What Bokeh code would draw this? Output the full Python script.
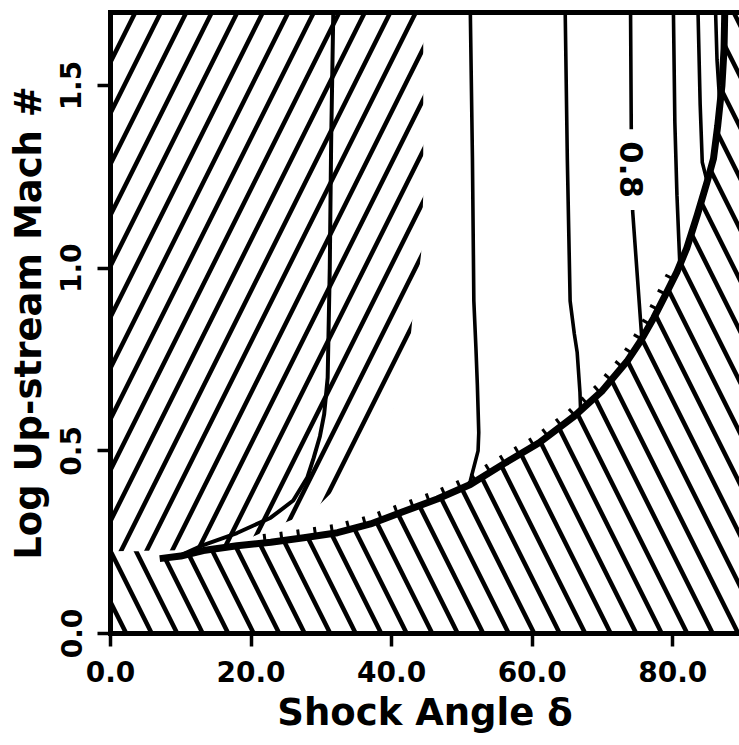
import numpy as np
from bokeh.plotting import figure
from bokeh.models import LinearAxis, FixedTicker, PrintfTickFormatter, Range1d
from bokeh.core.properties import value
from bokeh.embed import file_html
from bokeh.resources import INLINE

# ---- data: shock angle (deg) vs log10 of up-stream Mach number ----
# thick limiting curve (attached-shock limit)
boundary_delta = [7.0, 10.0, 13.2, 18.0, 22.8, 27.5, 32.3, 37.0, 41.7, 46.5, 51.2,
                  56.0, 61.0, 66.0, 70.0, 73.5, 75.4, 77.3, 79.2, 80.6, 82.0,
                  83.5, 84.9, 85.8, 86.4, 87.0, 87.3, 87.4]
boundary_logm = [0.205, 0.212, 0.227, 0.240, 0.250, 0.262, 0.276, 0.300, 0.334, 0.368, 0.408,
                 0.465, 0.522, 0.595, 0.665, 0.745, 0.800, 0.864, 0.936, 0.990, 1.055,
                 1.146, 1.237, 1.300, 1.390, 1.500, 1.600, 1.700]

# iso-lines
left_delta = [9.5, 12.8, 18.0, 22.8, 26.0, 28.0, 28.9, 29.8, 30.4, 30.9, 31.2, 31.4, 31.7]
left_logm = [0.210, 0.239, 0.275, 0.317, 0.364, 0.427, 0.480, 0.540, 0.600, 0.700, 1.000, 1.350, 1.700]

c1_delta = [51.2, 51.5, 51.7, 52.0, 52.2, 52.4, 52.3, 51.9, 51.2, 50.8]
c1_logm = [1.70, 1.30, 0.91, 0.78, 0.68, 0.55, 0.50, 0.47, 0.418, 0.405]

c2_delta = [64.7, 65.0, 65.4, 66.0, 66.4, 66.8, 66.9]
c2_logm = [1.70, 1.30, 0.91, 0.82, 0.77, 0.66, 0.605]

c3_delta = [74.0, 74.1, 74.3, 75.6]
c3_logm = [1.70, 1.38, 1.155, 0.808]

c4_delta = [80.1, 80.3, 80.6, 81.0]
c4_logm = [1.70, 1.40, 1.20, 1.015]

c5_delta = [83.6, 83.9, 84.2, 84.9]
c5_logm = [1.70, 1.45, 1.29, 1.237]

c6_delta = [86.1, 86.3, 86.7]
c6_logm = [1.70, 1.57, 1.45]

contour_label = "0.8"
contour_label_delta = 74.2
contour_label_logm = 1.27

# edge of the "/" hatched zone
hatch_up_delta = [0.0, 0.0, 44.5, 44.5, 44.2, 43.7, 43.1, 42.7, 41.7, 40.3, 36.7,
                  28.9, 22.5, 18.0, 13.2, 10.0, 0.0]
hatch_up_logm = [0.225, 1.70, 1.70, 1.20, 1.04, 0.96, 0.89, 0.81, 0.72, 0.62, 0.487,
                 0.336, 0.285, 0.245, 0.232, 0.228, 0.225]
hatch_split_logm = 0.225

x_ticks = [0, 20, 40, 60, 80]
y_ticks = [0.0, 0.5, 1.0, 1.5]

X0, X1 = 0.0, 89.5
Y0, Y1 = 0.0, 1.7

W, H = 739, 745
B_LEFT, B_RIGHT, B_TOP, B_BOTTOM = 110, 0, 12, 112
FW, FH = W - B_LEFT - B_RIGHT, H - B_TOP - B_BOTTOM

FONT = value("DejaVu Sans")

p = figure(width=W, height=H, x_range=Range1d(X0, X1), y_range=Range1d(Y0, Y1),
           output_backend="svg", toolbar_location=None,
           min_border_left=B_LEFT, min_border_right=B_RIGHT,
           min_border_top=B_TOP, min_border_bottom=B_BOTTOM,
           background_fill_color="white", border_fill_color="white")
p.grid.visible = False
p.outline_line_color = None

# hatched zones
p.patch(hatch_up_delta, hatch_up_logm, fill_color=None, line_color=None,
        hatch_pattern="/", hatch_scale=51, hatch_weight=4.5, hatch_color="black")

down_x = [X0, X0, boundary_delta[0] - 1.0] + boundary_delta + [X1, X1]
down_y = [Y0, hatch_split_logm, hatch_split_logm] + boundary_logm + [Y1, Y0]
p.patch(down_x, down_y, fill_color=None, line_color=None,
        hatch_pattern="\\", hatch_scale=51, hatch_weight=4.5, hatch_color="black")

# iso-lines
p.line(left_delta, left_logm, line_color="black", line_width=4)
for xs, ys in [(c1_delta, c1_logm), (c2_delta, c2_logm), (c3_delta, c3_logm),
               (c4_delta, c4_logm), (c5_delta, c5_logm), (c6_delta, c6_logm)]:
    p.line(xs, ys, line_color="black", line_width=3.6)

# limiting curve
p.line(boundary_delta, boundary_logm, line_color="black", line_width=7, line_join="round")

# short hachures on the upper side of the limiting curve
kx, ky = FW / (X1 - X0), FH / (Y1 - Y0)
bx = np.array(boundary_delta) * kx
by = np.array(boundary_logm) * ky
seg = np.hypot(np.diff(bx), np.diff(by))
s = np.concatenate([[0], np.cumsum(seg)])
s_start = np.interp(22.0, boundary_delta, s)
s_end = np.interp(81.0, boundary_delta, s)
x0s, y0s, x1s, y1s = [], [], [], []
for si in np.arange(s_start, s_end, 17.0):
    i = min(np.searchsorted(s, si, side="right") - 1, len(seg) - 1)
    t = (si - s[i]) / seg[i]
    px = bx[i] + t * (bx[i + 1] - bx[i])
    py = by[i] + t * (by[i + 1] - by[i])
    tx, ty = (bx[i + 1] - bx[i]) / seg[i], (by[i + 1] - by[i]) / seg[i]
    nx, ny = -ty, tx
    x0s.append((px - 2 * nx) / kx); y0s.append((py - 2 * ny) / ky)
    x1s.append((px + 9 * nx) / kx); y1s.append((py + 9 * ny) / ky)
p.segment(x0s, y0s, x1s, y1s, line_color="black", line_width=3)

# contour label
p.text(x=[contour_label_delta], y=[contour_label_logm], text=[contour_label],
       angle=-np.pi / 2, text_align="center", text_baseline="middle",
       text_font=FONT, text_font_style="bold", text_font_size="32px",
       text_color="black", background_fill_color="white", padding=12)

# axes
for ax in (p.xaxis[0], p.yaxis[0]):
    ax.axis_line_width = 5
    ax.axis_line_cap = "square"
    ax.major_tick_out = 13
    ax.major_tick_in = 0
    ax.major_tick_line_width = 3.5
    ax.minor_tick_out = 0
    ax.minor_tick_in = 0
    ax.major_label_text_font = "DejaVu Sans"
    ax.major_label_text_font_style = "bold"
    ax.major_label_text_font_size = "28px"
    ax.major_label_text_color = "black"
    ax.axis_label_text_font = "DejaVu Sans"
    ax.axis_label_text_font_style = "bold"
    ax.axis_label_text_font_size = "37px"
    ax.axis_label_text_color = "black"
    ax.formatter = PrintfTickFormatter(format="%.1f")

p.xaxis.ticker = FixedTicker(ticks=x_ticks)
p.yaxis.ticker = FixedTicker(ticks=y_ticks)
p.xaxis.axis_label = "Shock Angle δ"
p.yaxis.axis_label = "Log Up-stream Mach #"
p.xaxis.major_label_standoff = 14
p.xaxis.axis_label_standoff = 6
p.yaxis.major_label_standoff = 16
p.yaxis.axis_label_standoff = 8
p.yaxis.major_label_orientation = "vertical"

top = LinearAxis(ticker=FixedTicker(ticks=[]), axis_line_width=5, axis_line_cap="square",
                 major_tick_out=0, major_tick_in=0, minor_tick_out=0, minor_tick_in=0,
                 major_label_text_font_size="0px")
p.add_layout(top, "above")

open("out.html", "w").write(file_html(p, INLINE))
